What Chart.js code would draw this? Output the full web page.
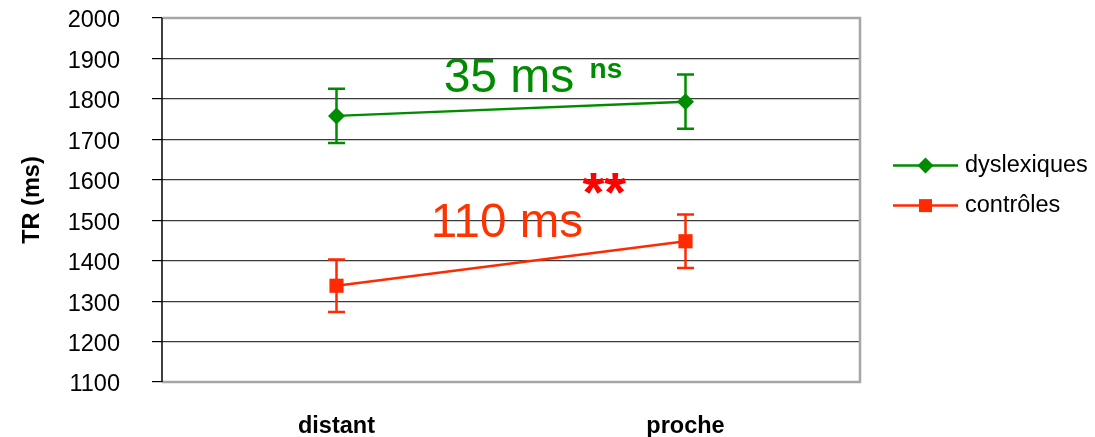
<!DOCTYPE html>
<html>
<head>
<meta charset="utf-8">
<script src="https://cdn.jsdelivr.net/npm/chart.js@4"></script>
<style>
  html, body { margin: 0; padding: 0; background: #fff; }
  #wrap { width: 1095px; height: 437px; position: relative; }
</style>
</head>
<body>
<div id="wrap"><canvas id="chart"></canvas></div>
<script>
// categories et valeurs
const categories = ['distant', 'proche'];
const dyslexiques = [1758, 1793];
const dyslexiquesErr = [67, 67];
const controles = [1338, 1448];
const controlesErr = [65, 66];
const yTicks = [1100, 1200, 1300, 1400, 1500, 1600, 1700, 1800, 1900, 2000];

const GREEN = '#008c00';
const RED = '#ff2a00';

// textes ajoutés sur le graphique (x en unités de catégorie, y en ms)
const notes = [
  { text: '35 ms', x: 0.307, y: 1817, color: GREEN, font: '48px Arial' },
  { text: 'ns', x: 0.725, y: 1852, color: GREEN, font: 'bold 28px Arial' },
  { text: '110 ms', x: 0.27, y: 1458, color: '#ff3300', font: '47.5px Arial' },
  { text: '**', x: 0.705, y: 1522, color: '#ff0000', font: 'bold 56px Arial' }
];

const errors = [dyslexiquesErr, controlesErr];

const plotFrame = {
  id: 'plotFrame',
  beforeDatasetsDraw(chart) {
    const { ctx, chartArea: a } = chart;
    ctx.save();
    ctx.strokeStyle = '#a6a6a6';
    ctx.lineWidth = 2.5;
    ctx.beginPath();
    ctx.moveTo(a.left, a.top);
    ctx.lineTo(a.right, a.top);
    ctx.lineTo(a.right, a.bottom);
    ctx.lineTo(a.left, a.bottom);
    ctx.stroke();
    ctx.strokeStyle = '#000';
    ctx.lineWidth = 1.5;
    ctx.beginPath();
    ctx.moveTo(a.left, a.top);
    ctx.lineTo(a.left, a.bottom);
    ctx.stroke();
    ctx.restore();
  }
};

const errorBars = {
  id: 'errorBars',
  afterDatasetsDraw(chart) {
    const { ctx, scales: { x, y } } = chart;
    ctx.save();
    chart.data.datasets.forEach((ds, i) => {
      ctx.strokeStyle = ds.borderColor;
      ctx.lineWidth = 2.5;
      ds.data.forEach((v, j) => {
        const px = x.getPixelForValue(j);
        const top = y.getPixelForValue(v + errors[i][j]);
        const bot = y.getPixelForValue(v - errors[i][j]);
        ctx.beginPath();
        ctx.moveTo(px, top); ctx.lineTo(px, bot);
        ctx.moveTo(px - 8.5, top); ctx.lineTo(px + 8.5, top);
        ctx.moveTo(px - 8.5, bot); ctx.lineTo(px + 8.5, bot);
        ctx.stroke();
      });
    });
    ctx.restore();
  },
  afterDraw(chart) {
    const { ctx, scales: { x, y }, chartArea: a } = chart;
    ctx.save();
    ctx.textBaseline = 'alphabetic';
    ctx.textAlign = 'left';
    notes.forEach(n => {
      ctx.font = n.font;
      ctx.fillStyle = n.color;
      ctx.fillText(n.text, x.getPixelForValue(n.x), y.getPixelForValue(n.y));
    });

    // légende
    const lx = a.right + 33;
    const ly = y.getPixelForValue(1635);
    chart.data.datasets.forEach((ds, i) => {
      const yy = ly + i * 40;
      ctx.strokeStyle = ds.borderColor;
      ctx.lineWidth = 2.5;
      ctx.beginPath();
      ctx.moveTo(lx, yy); ctx.lineTo(lx + 65, yy);
      ctx.stroke();
      ctx.fillStyle = ds.borderColor;
      ctx.beginPath();
      if (ds.pointStyle === 'rectRot') {
        ctx.moveTo(lx + 32.5 - 8, yy); ctx.lineTo(lx + 32.5, yy - 8);
        ctx.lineTo(lx + 32.5 + 8, yy); ctx.lineTo(lx + 32.5, yy + 8);
      } else {
        ctx.rect(lx + 32.5 - 6.5, yy - 6.5, 13, 13);
      }
      ctx.closePath();
      ctx.fill();
      ctx.fillStyle = '#000';
      ctx.font = '23.5px Arial';
      ctx.textBaseline = 'middle';
      ctx.fillText(ds.label, lx + 72, yy);
    });
    ctx.restore();
  }
};

new Chart(document.getElementById('chart'), {
  type: 'line',
  data: {
    labels: categories,
    datasets: [
      {
        label: 'dyslexiques',
        data: dyslexiques,
        borderColor: GREEN,
        backgroundColor: GREEN,
        borderWidth: 2.5,
        pointStyle: 'rectRot',
        pointRadius: 8.5,
        pointBorderWidth: 0,
        tension: 0
      },
      {
        label: 'contrôles',
        data: controles,
        borderColor: RED,
        backgroundColor: RED,
        borderWidth: 2.5,
        pointStyle: 'rect',
        pointRadius: 10,
        pointBorderWidth: 0,
        tension: 0
      }
    ]
  },
  options: {
    responsive: true,
    maintainAspectRatio: false,
    animation: false,
    layout: { padding: { top: 18, right: 235, bottom: 0, left: 0 } },
    plugins: {
      legend: { display: false },
      tooltip: { enabled: false }
    },
    scales: {
      x: {
        offset: true,
        grid: { display: false, drawTicks: false },
        border: { display: false },
        ticks: {
          color: '#000',
          padding: 30,
          font: { family: 'Arial', size: 23.5, weight: 'bold' }
        },
        afterFit(scale) { scale.height = 55; scale.paddingLeft = 0; scale.paddingRight = 0; }
      },
      y: {
        min: 1100,
        max: 2000,
        afterBuildTicks(scale) { scale.ticks = yTicks.map(v => ({ value: v })); },
        grid: {
          color: '#3a3a3a',
          lineWidth: 1.2,
          tickLength: 10,
          tickColor: '#000'
        },
        border: { display: false },
        ticks: {
          color: '#000',
          padding: 32,
          labelOffset: 3,
          font: { family: 'Arial', size: 23.5 },
          callback: v => String(v)
        },
        title: {
          display: true,
          text: 'TR (ms)',
          color: '#000',
          padding: { top: 18, bottom: 0 },
          font: { family: 'Arial', size: 23.5, weight: 'bold' }
        },
        afterFit(scale) { scale.width = 162; scale.paddingTop = 0; scale.paddingBottom = 0; }
      }
    }
  },
  plugins: [plotFrame, errorBars]
});
</script>
</body>
</html>
